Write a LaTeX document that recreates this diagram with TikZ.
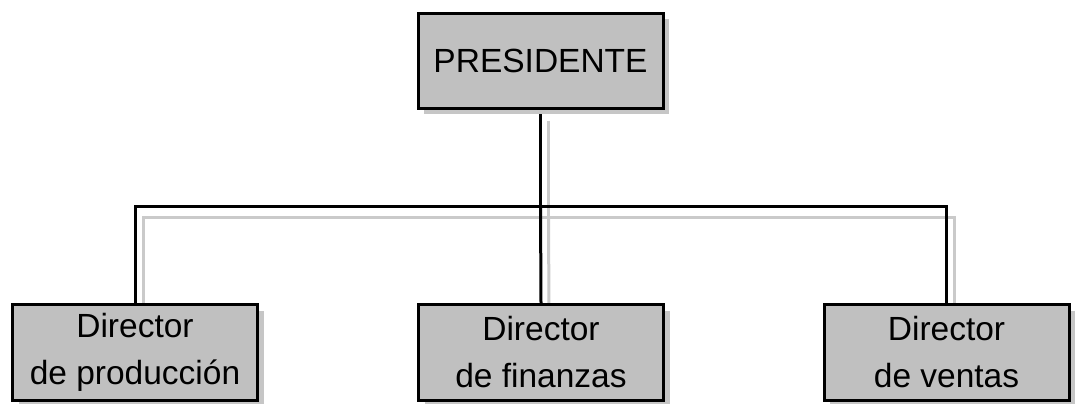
\documentclass[tikz,border=0pt]{standalone}
\usepackage{fontspec}
\setmainfont{Liberation Sans}
\usepackage{xcolor}
\usetikzlibrary{shadows, backgrounds}
\definecolor{BoxFill}{HTML}{C0C0C0}
\definecolor{ShadowGray}{HTML}{C6C6C6}
\definecolor{LinkGray}{HTML}{CACACA}
\tikzset{
  post/.style={draw=black, line width=1.5pt, fill=BoxFill, align=center,
               font=\fontsize{16.75}{23.5}\selectfont, inner sep=0pt,
               minimum height=48pt, minimum width=122.5pt,
               drop shadow={shadow xshift=3pt, shadow yshift=-3pt,
                            fill=ShadowGray, opacity=1}},
  link/.style={draw=black, line width=1.5pt},
  linkshade/.style={draw=LinkGray, line width=1.5pt,
                    transform canvas={shift={(4pt,-5.5pt)}}},
}

\begin{document}
\begin{tikzpicture}[x=0.5pt, y=0.5pt]
  \useasboundingbox (0,0) rectangle (1076,403);

  % ---- boxes ----
  \node[post, minimum height=47.5pt] (pres) at (540.5,342.5) {PRESIDENTE};
  \node[post] (prod) at (135,50.5)   {Director\\de producción};
  \node[post] (fin)  at (541,50.5)   {Director\\de finanzas};
  \node[post] (vent) at (946.5,50.5) {Director\\de ventas};
  \coordinate (bus) at (0,197);

  % ---- connectors (grey copy first, black on top) ----
  \begin{scope}[on background layer]
    \draw[linkshade] (pres.south) -- (pres.south |- bus) -| (prod.north);
    \draw[linkshade] (pres.south |- bus) -| (vent.north);
    \draw[linkshade] (pres.south |- bus) -- (fin.north);
    \draw[link] (pres.south) -- (pres.south |- bus) -| (prod.north);
    \draw[link] (pres.south |- bus) -| (vent.north);
    \draw[link] (pres.south |- bus) -- (fin.north);
  \end{scope}
\end{tikzpicture}
\end{document}
